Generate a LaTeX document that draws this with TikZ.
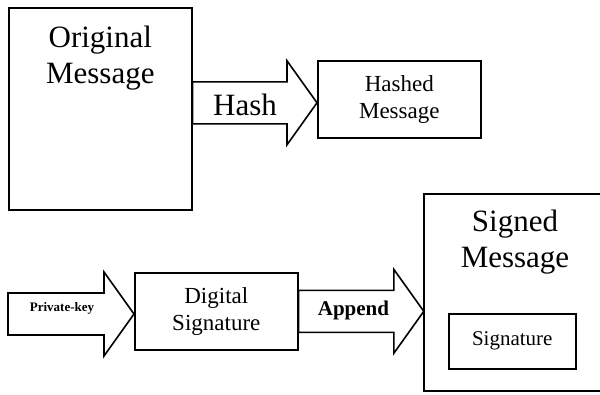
\documentclass[tikz,border=0pt]{standalone}
\usepackage{fontspec}
\setmainfont{Liberation Serif}
\usepackage{tikz}
\usetikzlibrary{calc,positioning}

\tikzset{
  msgbox/.style = {draw, line width = 1.6bp, rectangle, inner sep = 0bp},
  arrowline/.style = {draw, fill = white, line width = 1.6bp, line join = miter},
  bigtext/.style = {font = \fontsize{31bp}{36bp}\selectfont, align = center, inner sep = 0bp},
  midtext/.style = {font = \fontsize{23bp}{27.5bp}\selectfont, align = center},
}

% block arrow from #1 to the tip x of #2, kept at the height of #1
\newcommand{\fatarrow}[2]{%
  \draw[arrowline] let \p1 = (#1), \p2 = (#2) in
    (\x1, {\y1+21bp}) -- ({\x2-30bp}, {\y1+21bp}) -- ({\x2-30bp}, {\y1+42bp})
    -- (\x2, \y1) -- ({\x2-30bp}, {\y1-42bp}) -- ({\x2-30bp}, {\y1-21bp})
    -- (\x1, {\y1-21bp}) -- cycle;}

\begin{document}
\begin{tikzpicture}[x = 1bp, y = -1bp]
  \useasboundingbox (0, 0) rectangle (600, 394);

  % boxes
  \node[msgbox, minimum width = 183bp, minimum height = 202bp, anchor = north west] (orig) at (8, 7) {};
  \node[msgbox, midtext, minimum width = 163bp, minimum height = 77bp, anchor = north west] (hashed) at (317, 60) {Hashed\\Message};
  \node[msgbox, midtext, minimum width = 163bp, minimum height = 77bp, anchor = north west] (digsig) at (134, 272) {Digital\\Signature};
  % signed message box, its right side is off the page
  \coordinate (signedtl) at (423.8, 193.8);
  \coordinate (signedbl) at (423.8, 391.2);
  \draw[line width = 1.6bp] (600, 193.8) -- (signedtl) -- (signedbl) -- (600, 391.2);
  \coordinate (signedin) at (signedtl |- digsig.east);
  \node[msgbox, font = \fontsize{21bp}{25bp}\selectfont, minimum width = 127bp, minimum height = 55bp, anchor = north west] (sig) at (448, 313) {Signature};

  \node[bigtext] (origtxt) at ([yshift = -51bp]orig.north) {Original\\Message};
  \node[bigtext] (signedtxt) at (515, 242) {Signed\\Message};

  % arrows
  \coordinate (keyin) at (8, 314);
  \fatarrow{$(orig.east)+(0,-6)$}{hashed.west}
  \fatarrow{keyin}{digsig.west}
  \fatarrow{digsig.east}{signedin}

  \node[font = \fontsize{31bp}{36bp}\selectfont, anchor = base] (hashlbl) at (245, 115) {Hash};
  \node[font = \bfseries\fontsize{13bp}{15bp}\selectfont, anchor = base] (keylbl) at (62, 311) {Private-key};
  \node[font = \bfseries\fontsize{21bp}{25bp}\selectfont, anchor = base] (appendlbl) at (353.5, 315) {Append};
\end{tikzpicture}
\end{document}
